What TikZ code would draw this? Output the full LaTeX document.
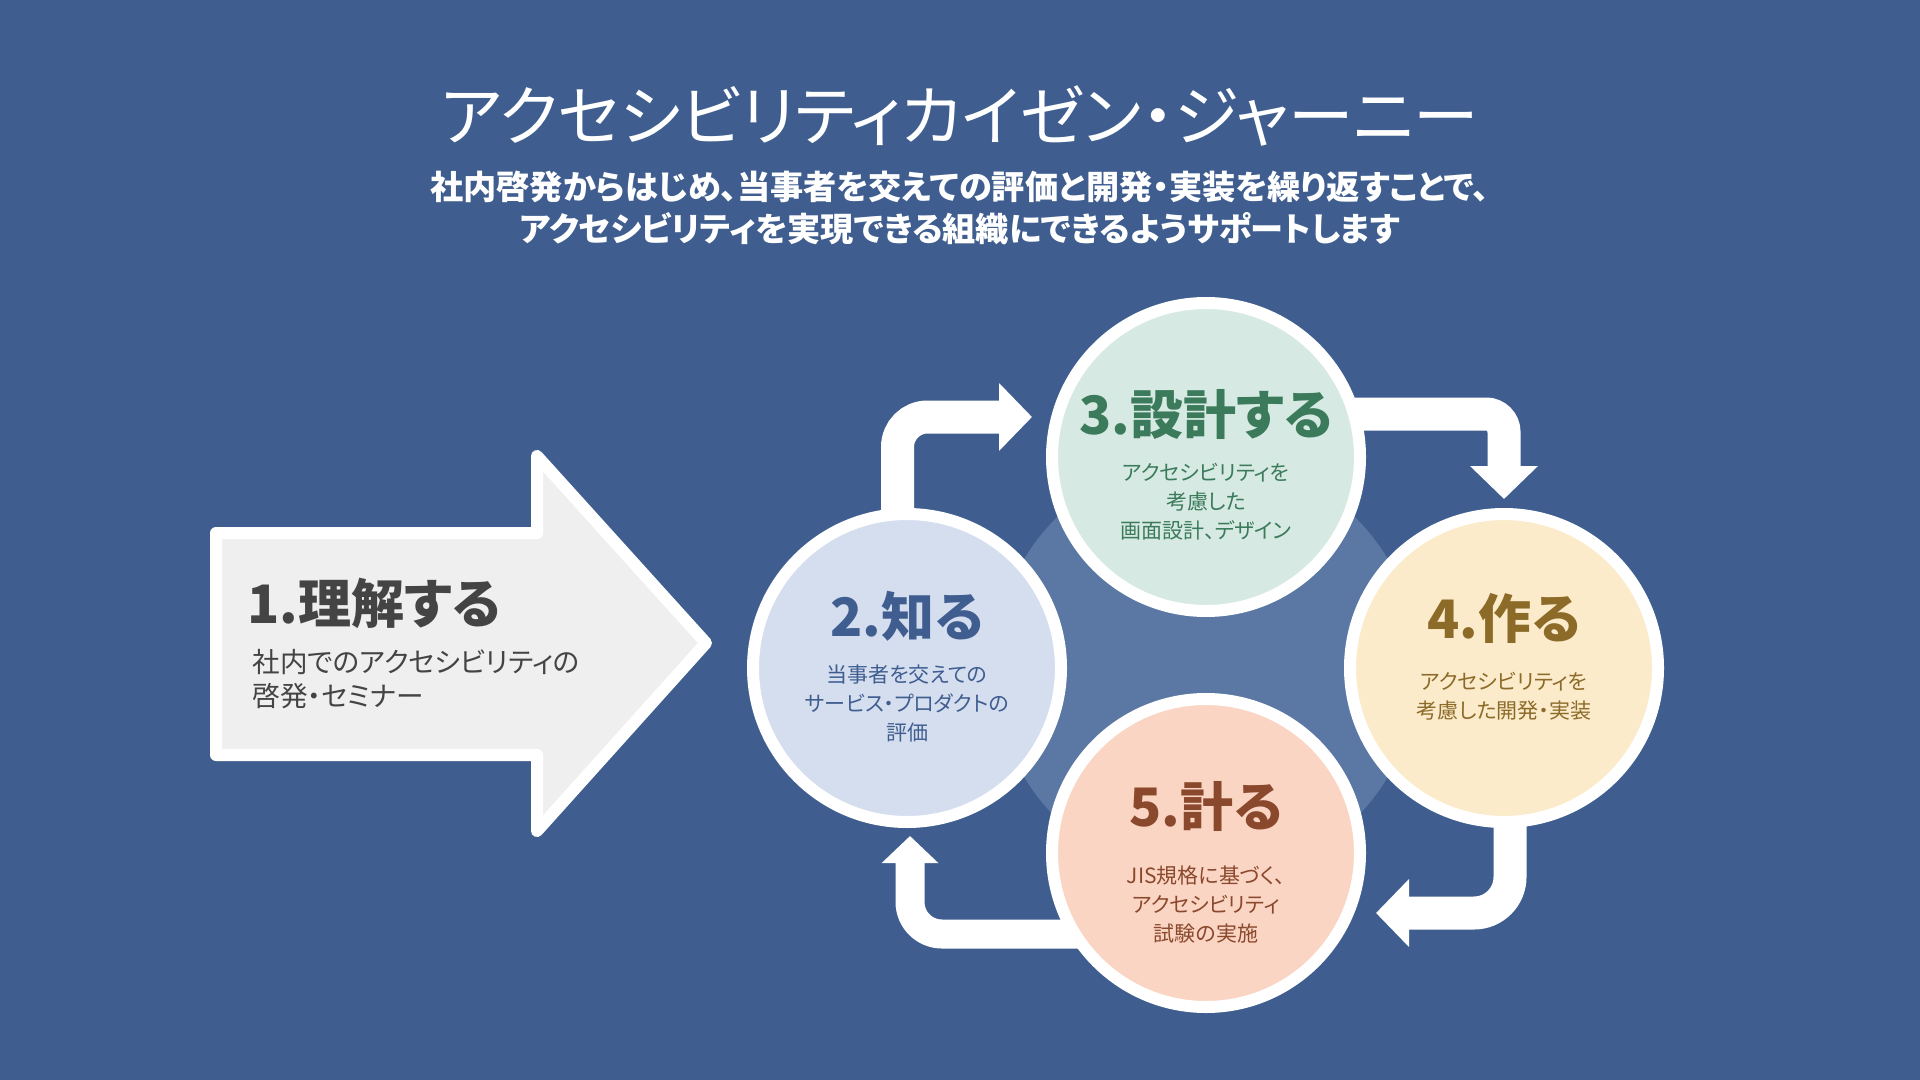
\documentclass[tikz,border=0pt]{standalone}
\usepackage{fontspec}
\setmainfont[RawFeature=+palt]{Noto Sans CJK JP}
\usetikzlibrary{arrows.meta,calc}
\definecolor{bgblue}{HTML}{3F5E8F}
\definecolor{haloblue}{HTML}{5B77A3}
\definecolor{learnfill}{HTML}{EFEFEF}
\definecolor{learntext}{HTML}{444444}
\definecolor{knowfill}{HTML}{D4DEEF}
\definecolor{knowtext}{HTML}{3F5E8F}
\definecolor{designfill}{HTML}{D6EAE3}
\definecolor{designtext}{HTML}{3B7A5B}
\definecolor{makefill}{HTML}{FBEBCB}
\definecolor{maketext}{HTML}{8C6A28}
\definecolor{measurefill}{HTML}{FBD5C4}
\definecolor{measuretext}{HTML}{8A482C}
\pgfdeclarelayer{back}
\pgfdeclarelayer{mid}
\pgfsetlayers{back,mid,main}
\tikzset{
    stage/.style={circle,draw=white,line width=6pt,minimum size=154pt,inner sep=0pt},
    stagehead/.style={font=\bfseries\fontsize{26.5}{30}\selectfont,inner sep=0pt},
    stagenote/.style={font=\fontsize{10.5}{14.5}\selectfont,align=center,inner sep=0pt},
    flow/.style={draw=white,line width=16.5pt,-{Triangle[length=16.5pt,width=33pt]}},
}

\begin{document}
\begin{tikzpicture}[x=0.5pt,y=-0.5pt]
    \begin{pgfonlayer}{back}
        \fill[bgblue] (0,0) rectangle (1920,1080);
    \end{pgfonlayer}
    \useasboundingbox (0,0) rectangle (1920,1080);

    % title and lead
    \node[font=\fontsize{32.8}{36}\selectfont,text=white] (title) at (960,116) {アクセシビリティカイゼン・ジャーニー};
    \node[font=\bfseries\fontsize{16.6}{21}\selectfont,text=white,align=center] (lead) at (960,208)
        {社内啓発からはじめ、当事者を交えての評価と開発・実装を繰り返すことで、\\アクセシビリティを実現できる組織にできるようサポートします};

    % step 1: big arrow
    \draw[white,line width=6pt,fill=learnfill,line join=round]
        (216,533) -- (537,533) -- (537,456) -- (706,643) -- (537,831) -- (537,755) -- (216,755) -- cycle;
    \node[anchor=west,inner sep=0pt,text=learntext,font=\bfseries\fontsize{26.5}{30}\selectfont] (learn) at (247,603) {1.理解する};
    \node[anchor=west,inner sep=0pt,text=learntext,align=left,font=\fontsize{13.8}{17}\selectfont] (learnnote) at (252,679)
        {社内でのアクセシビリティの\\啓発・セミナー};

    % steps 2-5
    \node[stage,fill=knowfill] (know) at (907,668) {};
    \node[stage,fill=designfill] (design) at (1206,457) {};
    \node[stage,fill=makefill] (make) at (1504,668) {};
    \node[stage,fill=measurefill] (measure) at (1206,853) {};

    \node[stagehead,text=knowtext] (knowhead) at ($(know)+(0,-52)$) {2.知る};
    \node[stagenote,text=knowtext] (knownote) at ($(know)+(0,35)$) {当事者を交えての\\サービス・プロダクトの\\評価};
    \node[stagehead,text=designtext] (designhead) at ($(design)+(0,-43)$) {3.設計する};
    \node[stagenote,text=designtext] (designnote) at ($(design)+(0,45)$) {アクセシビリティを\\考慮した\\画面設計、デザイン};
    \node[stagehead,text=maketext] (makehead) at ($(make)+(0,-50)$) {4.作る};
    \node[stagenote,text=maketext] (makenote) at ($(make)+(0,28)$) {アクセシビリティを\\考慮した開発・実装};
    \node[stagehead,text=measuretext] (measurehead) at ($(measure)+(0,-47)$) {5.計る};
    \node[stagenote,text=measuretext] (measurenote) at ($(measure)+(0,52)$) {JIS規格に基づく、\\アクセシビリティ\\試験の実施};

    % halo and cycle arrows
    \begin{pgfonlayer}{mid}
        \fill[haloblue] (1206,668) circle (212);
        \draw[flow,rounded corners=15pt] ($(know)+(-9.5,0)$) |- ($(design)+(-174,-40)$);
        \draw[flow,rounded corners=9pt] ($(design)+(0,-43)$) -| ($(make)+(0,-169)$);
        \draw[flow,rounded corners=18pt] ($(make)+(6,0)$) |- ($(measure)+(170,60)$);
        \draw[flow,line width=14.5pt,-{Triangle[length=13.5pt,width=27.5pt]},rounded corners=16pt]
            ($(measure)+(0,81)$) -| ($(know)+(3,168)$);
    \end{pgfonlayer}
\end{tikzpicture}
\end{document}
